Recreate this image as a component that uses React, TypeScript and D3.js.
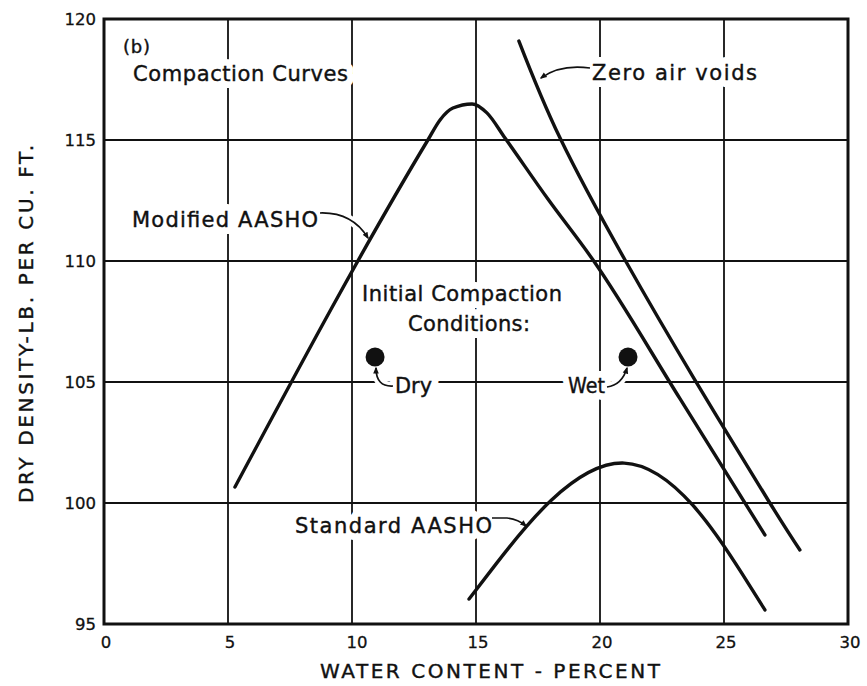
import React from 'react';
import * as d3 from 'd3';

// ---- data ----
const xTicks = [0, 5, 10, 15, 20, 25, 30];
const yTicks = [95, 100, 105, 110, 115, 120];

const modifiedW = [5.28, 13.06, 13.55, 14.07, 14.84, 15.44, 16.17, 17.9, 19.72, 23.23, 26.65];
const modifiedD = [100.66, 115.0, 115.83, 116.32, 116.49, 116.12, 115.08, 112.56, 110.04, 104.3, 98.68];

const zeroAirW = [16.73, 18.39, 21.01, 23.83, 26.85, 28.06];
const zeroAirD = [119.09, 115.08, 110.04, 105.08, 100.0, 98.06];

// Standard AASHO: single smooth arc (B-spline control values)
const standardW = [14.72, 21.12, 26.65];
const standardD = [96.03, 104.57, 95.58];

const initialLabels = ['Dry', 'Wet'];
const initialW = [10.93, 21.13];
const initialD = [106.03, 106.03];

const FONT = '"DejaVu Sans", "Liberation Sans", sans-serif';
const INK = '#111';

const x = d3.scaleLinear().domain([0, 30]).range([104, 848]);
const y = d3.scaleLinear().domain([95, 120]).range([624, 19]);

const lineBasis = d3
  .line<[number, number]>()
  .x((d) => x(d[0]))
  .y((d) => y(d[1]))
  .curve(d3.curveBasis);

const lineMono = d3
  .line<[number, number]>()
  .x((d) => x(d[0]))
  .y((d) => y(d[1]))
  .curve(d3.curveMonotoneX);

const lineSmooth = d3
  .line<[number, number]>()
  .x((d) => x(d[0]))
  .y((d) => y(d[1]))
  .curve(d3.curveNatural);

const zip = (a: number[], b: number[]): [number, number][] => a.map((v, i) => [v, b[i]]);

type Ann = { text: string; x: number; y: number; len: number; size?: number; adjust?: string };

const annotations: Ann[] = [
  { text: '(b)', x: 123, y: 53, len: 27, size: 18 },
  { text: 'Compaction Curves', x: 133, y: 81, len: 215 },
  { text: 'Modified AASHO', x: 132, y: 227, len: 186 },
  { text: 'Initial Compaction', x: 362, y: 301, len: 200 },
  { text: 'Conditions:', x: 408, y: 331, len: 122 },
  { text: initialLabels[0], x: 395, y: 393, len: 37, adjust: 'spacingAndGlyphs' },
  { text: initialLabels[1], x: 568, y: 393, len: 37, adjust: 'spacingAndGlyphs' },
  { text: 'Zero air voids', x: 592, y: 80, len: 165 },
  { text: 'Standard AASHO', x: 295, y: 533, len: 197 },
];

const arrows = [
  'M590,68 Q560,64 541,78',
  'M320,213 Q352,212 368,238',
  'M393,386 Q376,387 376,368',
  'M607,387 Q622,385 627,368',
  'M492,518 L507,518 Q518,519 526,526',
];

const textProps = (a: Ann) => ({
  x: a.x,
  y: a.y,
  fontSize: a.size ?? 21,
  fontFamily: FONT,
  textLength: a.len,
  lengthAdjust: a.adjust ?? 'spacing',
});

export default function App() {
  return (
    <svg
      width={867}
      height={686}
      style={{ position: 'absolute', left: 0, top: 0, display: 'block', background: '#fff' }}
    >
      <defs>
        <marker id="ah" viewBox="0 0 10 10" refX="8" refY="5" markerWidth="7" markerHeight="7" orient="auto" markerUnits="userSpaceOnUse">
          <path d="M0,1 L10,5 L0,9 Z" fill={INK} />
        </marker>
      </defs>
      <rect width={867} height={686} fill="#fff" />

      {/* grid */}
      <g stroke={INK} strokeWidth={1.8}>
        {xTicks.slice(1, -1).map((t) => (
          <line key={'gx' + t} x1={x(t)} x2={x(t)} y1={y(120)} y2={y(95)} />
        ))}
        {yTicks.slice(1, -1).map((t) => (
          <line key={'gy' + t} x1={x(0)} x2={x(30)} y1={y(t)} y2={y(t)} />
        ))}
      </g>

      {/* tick labels */}
      <g fontFamily={FONT} fontSize={16.5} fill={INK} stroke={INK} strokeWidth={0.3}>
        {yTicks.map((t) => (
          <text key={'ty' + t} x={96} y={y(t)} dy="0.36em" textAnchor="end">
            {t}
          </text>
        ))}
        {xTicks.map((t) => (
          <text key={'tx' + t} x={x(t) + (t === 10 ? 5 : 2)} y={648} textAnchor="middle">
            {t}
          </text>
        ))}
      </g>

      {/* axis titles */}
      <g fontFamily={FONT} fontSize={20} fill={INK} stroke={INK} strokeWidth={0.4}>
        <text x={320} y={678} textLength={340} lengthAdjust="spacing">
          WATER CONTENT - PERCENT
        </text>
        <text x={0} y={0} textLength={358} lengthAdjust="spacing" transform="translate(33,503) rotate(-90)">
          DRY DENSITY-LB. PER CU. FT.
        </text>
      </g>

      {/* annotation halos (knock out grid behind text) */}
      <g fill="#fff" stroke="#fff" strokeWidth={14} strokeLinejoin="round">
        {annotations.map((a, i) => (
          <text key={'h' + i} {...textProps(a)}>
            {a.text}
          </text>
        ))}
      </g>
      {/* arrows */}
      <g fill="none">
        {arrows.map((d, i) => (
          <path key={'aw' + i} d={d} stroke="#fff" strokeWidth={9} />
        ))}
        {arrows.map((d, i) => (
          <path key={'a' + i} d={d} stroke={INK} strokeWidth={1.7} markerEnd="url(#ah)" />
        ))}
      </g>
      {/* annotation text */}
      <g fill={INK} stroke={INK} strokeWidth={0.4}>
        {annotations.map((a, i) => (
          <text key={'t' + i} {...textProps(a)}>
            {a.text}
          </text>
        ))}
      </g>

      {/* curves */}
      <g fill="none" stroke={INK} strokeWidth={3.4} strokeLinecap="round" strokeLinejoin="round">
        <path d={lineMono(zip(modifiedW, modifiedD)) || ''} />
        <path d={lineSmooth(zip(zeroAirW, zeroAirD)) || ''} />
        <path d={lineBasis(zip(standardW, standardD)) || ''} />
      </g>

      {/* initial compaction points */}
      {initialW.map((w, i) => (
        <circle key={'p' + i} cx={x(w)} cy={y(initialD[i])} r={9.5} fill={INK} />
      ))}

      {/* frame */}
      <rect
        x={x(0)}
        y={y(120)}
        width={x(30) - x(0)}
        height={y(95) - y(120)}
        fill="none"
        stroke={INK}
        strokeWidth={3}
      />
    </svg>
  );
}
